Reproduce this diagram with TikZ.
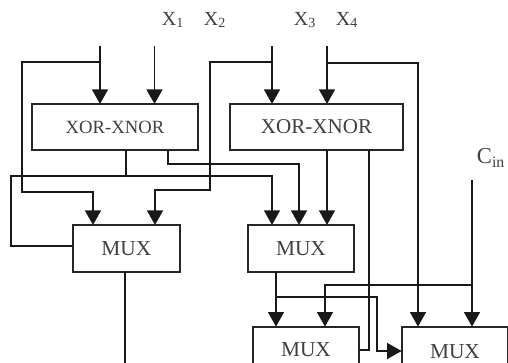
\documentclass[tikz,border=0pt]{standalone}
\usepackage{fontspec}
\setmainfont{Liberation Serif}
\usetikzlibrary{arrows.meta, positioning}
\tikzset{
    >={Triangle[width=12pt,length=11pt]},
    % Shapes
    blockBase/.style={rectangle, draw=black!85, line width=1.4pt, outer sep=0pt, align=center, text=black!75},
    xorBlock/.style={blockBase, minimum height=34.5pt},
    muxBlock/.style={blockBase, minimum width=80pt, minimum height=35pt, font=\fontsize{16}{16}\selectfont},
    % Flow & Labels
    wire/.style={line width=1.2pt, black!90},
    flow/.style={->, wire},
    lbl/.style={inner sep=0pt, text=black!75, font=\fontsize{15}{15}\selectfont}
}
\begin{document}
\begin{tikzpicture}[x=0.75pt, y=-0.75pt]
\clip (0,0) rectangle (508,362);

% Blocks
\node[xorBlock, minimum width=124.5pt, font=\fontsize{14}{14}\selectfont] (xorA) at (115,127) {XOR-XNOR};
\node[xorBlock, minimum width=129.75pt, font=\fontsize{15.8}{16}\selectfont, right=24pt of xorA] (xorB) {XOR-XNOR};
\node[muxBlock, below right=56.25pt and 30.75pt of xorA.south west] (muxA) {MUX};
\node[muxBlock, right=51pt of muxA] (muxB) {MUX};
\node[muxBlock, below right=41.25pt and 3.75pt of muxB.south west] (muxC) {MUX};
\node[muxBlock, minimum height=37pt, below right=41.25pt and 115.5pt of muxB.south west] (muxD) {MUX};

% Labels
\node[lbl] (lblA) at (173,20) {X\textsubscript{1}};
\node[lbl] (lblB) at (215,20) {X\textsubscript{2}};
\node[lbl] (lblC) at (305,20) {X\textsubscript{3}};
\node[lbl] (lblD) at (347,20) {X\textsubscript{4}};
\node[lbl, font=\fontsize{17}{17}\selectfont] (lblIn) at (491,158) {C\textsubscript{in}};

% Inputs and taps
\coordinate (inA) at (100,46);
\coordinate (inB) at (154.5,46);
\coordinate (inC) at (272,46);
\coordinate (inD) at (327,46);
\coordinate (inE) at (472,180);
\coordinate (tapA) at (100,62);
\coordinate (tapC) at (272,62);
\coordinate (tapD) at (327,63);
\coordinate (tapE) at (472,285);
\coordinate (tapM) at (276,297);
\coordinate (tapX) at (126,176);
\coordinate (outA) at (125,366);

% Into the XOR-XNOR blocks
\draw[flow] (inA) -- (inA |- xorA.north);
\draw[flow] (inB) -- (inB |- xorA.north);
\draw[flow] (inC) -- (inC |- xorB.north);
\draw[flow] (inD) -- (inD |- xorB.north);

% First row of MUX
\draw[flow] (tapA) -| (22,192) -| (93,0 |- muxA.north);
\draw[flow] (tapC) -| (210,190) -| (155,0 |- muxA.north);
\draw[wire] (tapX |- xorA.south) -- (tapX);
\draw[wire] (tapX) -- (11,176) -- (11,246) -- (muxA.west |- 0,246);
\draw[flow] (tapX) -| (272,0 |- muxB.north);
\draw[flow] (168,0 |- xorA.south) |- (299,164) -- (299,0 |- muxB.north);
\draw[flow] (327,0 |- xorB.south) -- (327,0 |- muxB.north);
\draw[wire] (125,0 |- muxA.south) -- (outA);

% Second row of MUX
\draw[wire] (369,0 |- xorB.south) |- (muxC.east);
\draw[flow] (276,0 |- muxB.south) -- (276,0 |- muxC.north);
\draw[flow] (tapM) -| (377,351) -- (muxD.west |- 0,351);
\draw[flow] (tapD) -| (418,0 |- muxD.north);
\draw[flow] (inE) -- (inE |- muxD.north);
\draw[flow] (tapE) -| (325,0 |- muxC.north);

\end{tikzpicture}
\end{document}
